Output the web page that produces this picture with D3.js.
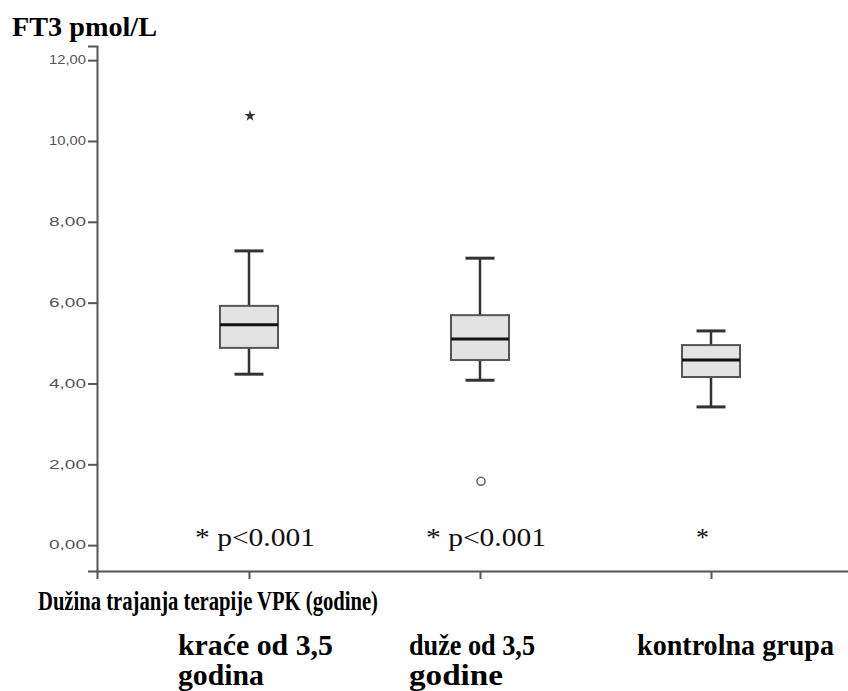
<!DOCTYPE html>
<html>
<head>
<meta charset="utf-8">
<script src="https://cdn.jsdelivr.net/npm/d3@7"></script>
<style>
  body { margin: 0; background: #fff; }
  svg { display: block; }
  .tickLabel text { font-family: "Liberation Sans", Arial, sans-serif; font-size: 12px; fill: #555; }
  .serif { font-family: "Liberation Serif", "Times New Roman", serif; }
</style>
</head>
<body>
<script>
(function(){

//chart data
var categories = ["kraće od 3,5 godina", "duže od 3,5 godine", "kontrolna grupa"];
var labelLines = [["kraće od 3,5", "godina"], ["duže od 3,5", "godine"], ["kontrolna grupa"]];
var whiskerLow = [4.23, 4.08, 3.42];
var q1 = [4.88, 4.58, 4.16];
var median = [5.45, 5.10, 4.58];
var q3 = [5.92, 5.69, 4.95];
var whiskerHigh = [7.28, 7.10, 5.30];
var outlierGroup = [0, 1];
var outlierValue = [10.62, 1.58];
var outlierKind = ["extreme", "outlier"];
var annotations = ["* p<0.001", "* p<0.001", "*"];
var yTicks = [0, 2, 4, 6, 8, 10, 12];
var yTitle = "FT3 pmol/L";
var xTitle = "Dužina trajanja terapije VPK (godine)";

//frame
var width = 848,
    height = 691;

var svg = d3.select("body")
    .append("svg")
    .attr("width", width)
    .attr("height", height);

var xScale = d3.scalePoint()
    .domain(categories)
    .range([97, 863])
    .padding(0.658);

var yScale = d3.scaleLinear()
    .domain([-0.64, 12.35])
    .range([571, 46]);

var boxWidth = 58,
    capWidth = 29;

//y axis
var yAxis = svg.append("g")
    .attr("class", "tickLabel")
    .attr("transform", "translate(97,0)")
    .call(d3.axisLeft(yScale)
        .tickValues(yTicks)
        .tickSizeOuter(0)
        .tickSize(9)
        .tickPadding(2)
        .tickFormat(function(d){ return d.toFixed(2).replace(".", ","); }));
yAxis.select(".domain").attr("stroke", "#555").attr("stroke-width", 2);
yAxis.selectAll(".tick line").attr("stroke", "#555").attr("stroke-width", 2);
yAxis.selectAll(".tick text")
    .attr("textLength", 37)
    .attr("lengthAdjust", "spacingAndGlyphs");

//x axis
var xAxis = svg.append("g")
    .attr("transform", "translate(0,571)")
    .call(d3.axisBottom(xScale)
        .tickSizeOuter(0)
        .tickSize(8)
        .tickFormat(""));
xAxis.select(".domain").attr("stroke", "#555").attr("stroke-width", 2);
xAxis.selectAll(".tick line").attr("stroke", "#555").attr("stroke-width", 2);

//boxes
var groups = svg.selectAll(".box")
    .data(categories)
    .enter()
    .append("g")
    .attr("class", "box");

//whisker stems
groups.append("line")
    .attr("x1", function(d){ return xScale(d); })
    .attr("x2", function(d){ return xScale(d); })
    .attr("y1", function(d, i){ return yScale(whiskerLow[i]); })
    .attr("y2", function(d, i){ return yScale(whiskerHigh[i]); })
    .attr("stroke", "#333")
    .attr("stroke-width", 2.5);

//caps
[whiskerLow, whiskerHigh].forEach(function(arr){
    groups.append("line")
        .attr("x1", function(d){ return xScale(d) - capWidth / 2; })
        .attr("x2", function(d){ return xScale(d) + capWidth / 2; })
        .attr("y1", function(d, i){ return yScale(arr[i]); })
        .attr("y2", function(d, i){ return yScale(arr[i]); })
        .attr("stroke", "#333")
        .attr("stroke-width", 3);
});

groups.append("rect")
    .attr("x", function(d){ return xScale(d) - boxWidth / 2; })
    .attr("width", boxWidth)
    .attr("y", function(d, i){ return yScale(q3[i]); })
    .attr("height", function(d, i){ return yScale(q1[i]) - yScale(q3[i]); })
    .attr("fill", "#e3e3e3")
    .attr("stroke", "#555")
    .attr("stroke-width", 2);

groups.append("line")
    .attr("x1", function(d){ return xScale(d) - boxWidth / 2; })
    .attr("x2", function(d){ return xScale(d) + boxWidth / 2; })
    .attr("y1", function(d, i){ return yScale(median[i]); })
    .attr("y2", function(d, i){ return yScale(median[i]); })
    .attr("stroke", "#111")
    .attr("stroke-width", 3);

//outliers
var star = d3.symbol().type(d3.symbolStar).size(38);
outlierValue.forEach(function(v, k){
    var cx = xScale(categories[outlierGroup[k]]) + 1,
        cy = yScale(v);
    if (outlierKind[k] == "extreme"){
        svg.append("path")
            .attr("d", star)
            .attr("transform", "translate(" + cx + "," + cy + ")")
            .attr("fill", "#333");
    } else {
        svg.append("circle")
            .attr("cx", cx)
            .attr("cy", cy)
            .attr("r", 4)
            .attr("fill", "none")
            .attr("stroke", "#666")
            .attr("stroke-width", 1.6);
    };
});

//annotations under the boxes
svg.selectAll(".note")
    .data(annotations)
    .enter()
    .append("text")
    .attr("class", "note serif")
    .attr("x", function(d, i){ return xScale(categories[i]) + (d.length > 1 ? -54 : -15); })
    .attr("y", 546)
    .attr("font-size", 26)
    .attr("fill", "#111")
    .attr("textLength", function(d){ return d.length > 1 ? 120 : null; })
    .attr("lengthAdjust", "spacingAndGlyphs")
    .text(function(d){ return d; });

//titles
svg.append("text")
    .attr("class", "serif")
    .attr("x", 12)
    .attr("y", 36)
    .attr("font-size", 27)
    .attr("font-weight", "bold")
    .attr("textLength", 145)
    .attr("lengthAdjust", "spacingAndGlyphs")
    .text(yTitle);

svg.append("text")
    .attr("class", "serif")
    .attr("x", 38)
    .attr("y", 610)
    .attr("font-size", 28)
    .attr("font-weight", "bold")
    .attr("textLength", 340)
    .attr("lengthAdjust", "spacingAndGlyphs")
    .text(xTitle);

//category labels
var labelWidths = [[155, 86], [126, 94], [197]];
var labels = svg.selectAll(".catLabel")
    .data(labelLines)
    .enter()
    .append("text")
    .attr("class", "catLabel serif")
    .attr("font-size", 29)
    .attr("font-weight", "bold")
    .attr("y", 655);

labels.selectAll("tspan")
    .data(function(d, i){ return d.map(function(t, j){ return {t: t, i: i, j: j}; }); })
    .enter()
    .append("tspan")
    .attr("x", function(d){ return xScale(categories[d.i]) + (d.i < 2 ? -71 : -74); })
    .attr("y", function(d){ return 655 + d.j * 30; })
    .attr("textLength", function(d){ return labelWidths[d.i][d.j]; })
    .attr("lengthAdjust", "spacingAndGlyphs")
    .text(function(d){ return d.t; });

})();
</script>
</body>
</html>
